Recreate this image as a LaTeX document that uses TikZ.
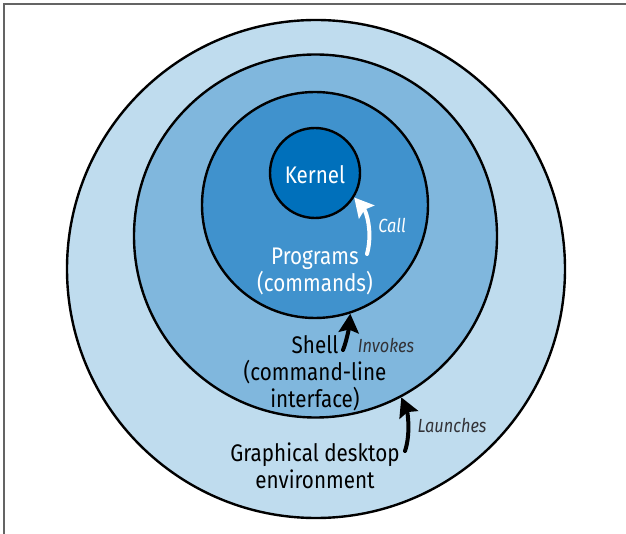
\documentclass[tikz,border=0pt]{standalone}
\usepackage{fontspec}
\setmainfont{Fira Sans}[FakeStretch=0.86]
\usetikzlibrary{arrows.meta}

\definecolor{desktopblue}{RGB}{191,220,238}
\definecolor{shellblue}{RGB}{128,183,221}
\definecolor{progblue}{RGB}{64,146,205}
\definecolor{kernelblue}{RGB}{0,112,187}
\definecolor{notegray}{RGB}{50,50,55}
\definecolor{framegray}{RGB}{100,100,100}

\tikzset{
  ring/.style={circle, draw=black, line width=2.4pt, inner sep=0pt},
  maintext/.style={align=center, font=\fontsize{24}{27}\selectfont},
  note/.style={font=\fontsize{19}{22}\selectfont\itshape, text=notegray},
  flow/.style={line width=4pt, line cap=round, -{Stealth[length=19pt,width=20pt,inset=3pt]}},
}

\begin{document}
\begin{tikzpicture}[x=1pt, y=-1pt]
\useasboundingbox (0,0) rectangle (626,534);

% frame
\draw[framegray, line width=1.4pt] (4,534) -- (4,4) -- (626,4);

% rings
\node[ring, fill=desktopblue, minimum size=498pt] (desktop) at (316,269) {};
\node[ring, fill=shellblue, minimum size=363pt] (shell) at (315.5,236) {};
\node[ring, fill=progblue, minimum size=226pt] (programs) at (315,205) {};
\node[ring, fill=kernelblue, minimum size=90pt] (kernel) at (315,173) {};

% labels
\node[maintext, text=white] (kerneltext) at (315,175) {Kernel};
\node[maintext, text=white] (progtext) at (315,271) {Programs\\(commands)};
\node[maintext] (shelltext) at (315,373) {Shell\\(command-line\\interface)};
\node[maintext] (desktoptext) at (315,466) {Graphical desktop\\environment};

\node[note, text=white] (callnote) at (392,225) {Call};
\node[note] (invokesnote) at (386,345) {Invokes};
\node[note] (launchesnote) at (452,426) {Launches};

% arrows
\coordinate (callfoot) at (367,254);
\coordinate (invokesfoot) at (343,350);
\coordinate (launchesfoot) at (405,451);

\draw[flow, white] (callfoot) .. controls +(6,-22) and +(12,14) .. (kernel.-32); %programs-kernel
\draw[flow] (invokesfoot) .. controls +(4,-10) and +(-1,12) .. (programs.-72); %shell-programs
\draw[flow] (launchesfoot) .. controls +(6,-18) and +(6,14) .. (shell.-62); %desktop-shell

\end{tikzpicture}
\end{document}
